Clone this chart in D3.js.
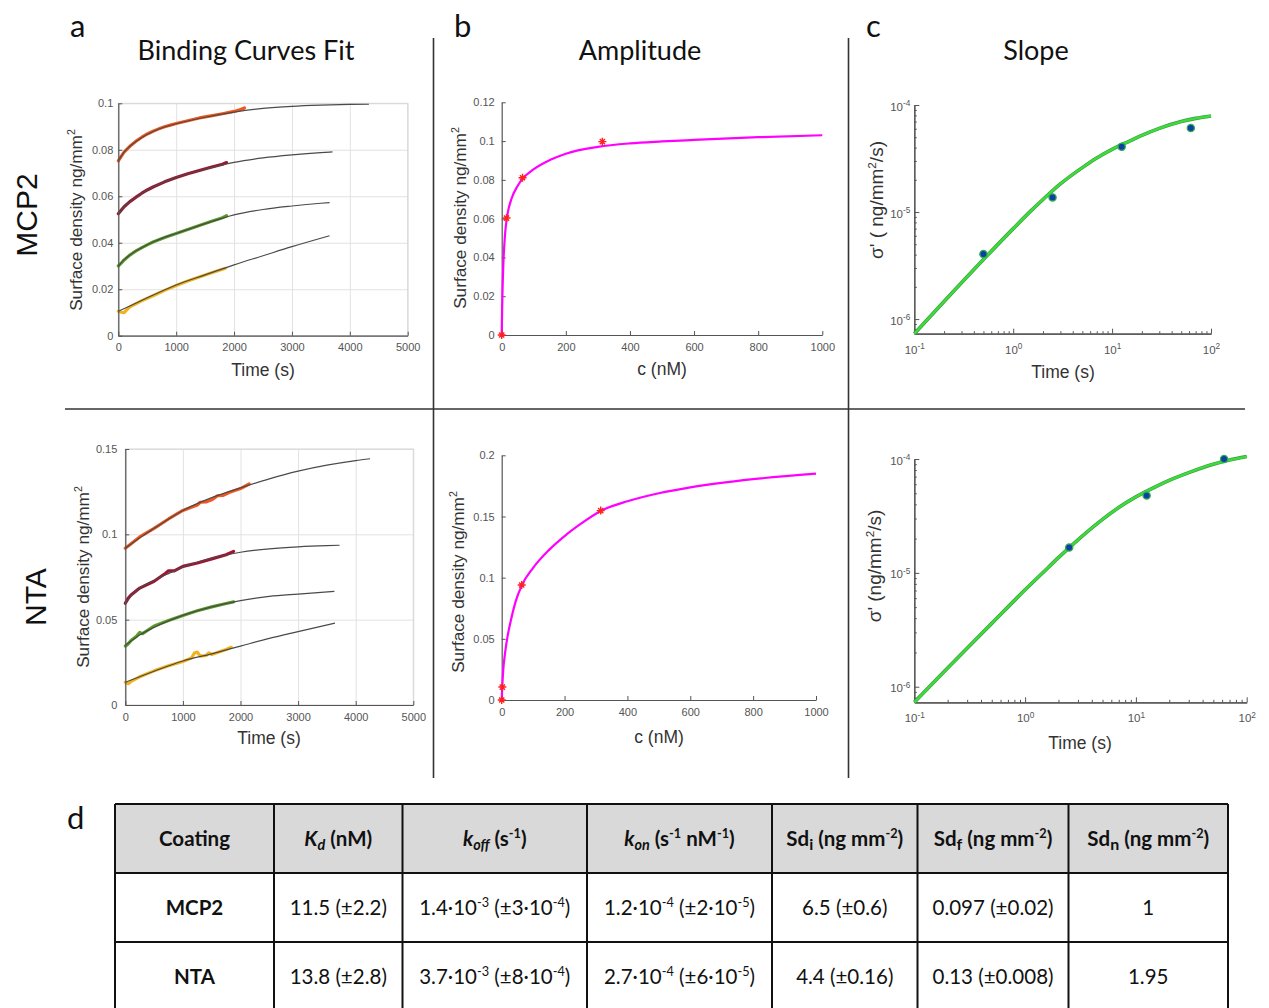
<!DOCTYPE html>
<html>
<head>
<meta charset="utf-8">
<script src="https://cdn.jsdelivr.net/npm/d3@7"></script>
<style>
  body { margin: 0; background: #fff; }
  svg { display: block; font-family: "Liberation Sans", Arial, sans-serif; }
</style>
</head>
<body>
<script>
/* ---- Data: panel a (binding curves), [time s, surface density] ---- */
const mcp2OrangeData = [[0,0.0752],[50,0.0772],[100,0.0790],[200,0.0815],[300,0.0836],[400,0.0853],[500,0.0868],[600,0.0880],[700,0.0890],[800,0.0899],[900,0.0906],[1000,0.0913],[1200,0.0925],[1400,0.0937],[1600,0.0946],[1800,0.0955],[2000,0.0965],[2100,0.0972],[2180,0.0980]];
const mcp2OrangeFit = [[0,0.0752],[100,0.0790],[200,0.0815],[400,0.0852],[600,0.0879],[800,0.0898],[1000,0.0912],[1500,0.0940],[2000,0.0962],[2500,0.0978],[3000,0.0987],[3500,0.0992],[4000,0.0995],[4330,0.0996]];
const mcp2RedData = [[0,0.0525],[50,0.0540],[100,0.0555],[200,0.0577],[300,0.0595],[400,0.0612],[500,0.0627],[600,0.0640],[800,0.0662],[1000,0.0681],[1200,0.0697],[1400,0.0711],[1600,0.0725],[1800,0.0738],[1870,0.0745]];
const mcp2RedFit = [[0,0.0525],[100,0.0555],[200,0.0577],[400,0.0612],[600,0.0640],[800,0.0662],[1000,0.0681],[1500,0.0717],[2000,0.0746],[2500,0.0765],[3000,0.0778],[3500,0.0788],[3700,0.0791]];
const mcp2GreenData = [[0,0.0300],[50,0.0312],[100,0.0326],[200,0.0347],[300,0.0364],[400,0.0378],[500,0.0391],[600,0.0403],[800,0.0423],[1000,0.0440],[1200,0.0457],[1400,0.0474],[1600,0.0491],[1800,0.0508],[1870,0.0516]];
const mcp2GreenFit = [[0,0.0300],[100,0.0326],[200,0.0347],[400,0.0378],[600,0.0403],[800,0.0423],[1000,0.0440],[1500,0.0482],[2000,0.0520],[2500,0.0543],[3000,0.0558],[3500,0.0570],[3650,0.0573]];
const mcp2YellowData = [[0,0.0105],[50,0.0101],[100,0.0099],[150,0.0112],[200,0.0124],[400,0.0150],[600,0.0172],[800,0.0195],[1000,0.0216],[1200,0.0235],[1400,0.0253],[1600,0.0270],[1850,0.0290]];
const mcp2YellowFit = [[0,0.0105],[200,0.0128],[500,0.0163],[1000,0.0218],[1500,0.0262],[2000,0.0305],[2500,0.0344],[3000,0.0383],[3650,0.0430]];

const ntaOrangeData = [[0,0.0918],[100,0.0945],[250,0.0985],[500,0.1035],[750,0.1090],[1000,0.1140],[1250,0.1172],[1300,0.1188],[1400,0.1190],[1500,0.1202],[1600,0.1226],[1700,0.1228],[1800,0.1245],[2000,0.1268],[2150,0.1295]];
const ntaOrangeFit = [[0,0.0918],[250,0.0980],[500,0.1035],[1000,0.1140],[1500,0.1215],[2000,0.1272],[2500,0.1325],[3000,0.1370],[3500,0.1405],[4000,0.1432],[4250,0.1443]];
const ntaRedData = [[0,0.0596],[50,0.0625],[100,0.0645],[250,0.0685],[500,0.0725],[700,0.0772],[750,0.0786],[850,0.0786],[1000,0.0812],[1250,0.0832],[1500,0.0856],[1750,0.0880],[1880,0.0900]];
const ntaRedFit = [[0,0.0596],[100,0.0640],[250,0.0685],[500,0.0730],[750,0.0770],[1000,0.0808],[1500,0.0860],[2000,0.0895],[2500,0.0915],[3000,0.0927],[3500,0.0934],[3720,0.0936]];
const ntaGreenData = [[0,0.0345],[50,0.0358],[100,0.0378],[200,0.0405],[250,0.0425],[300,0.0418],[500,0.0463],[750,0.0495],[1000,0.0525],[1250,0.0552],[1500,0.0575],[1750,0.0595],[1880,0.0604]];
const ntaGreenFit = [[0,0.0350],[100,0.0375],[250,0.0410],[500,0.0455],[1000,0.0525],[1500,0.0575],[2000,0.0612],[2500,0.0636],[3000,0.0650],[3630,0.0666]];
const ntaYellowData = [[0,0.0133],[50,0.0125],[100,0.0138],[250,0.0165],[500,0.0200],[750,0.0230],[1000,0.0255],[1150,0.0275],[1200,0.0305],[1250,0.0310],[1300,0.0286],[1400,0.0290],[1450,0.0305],[1500,0.0296],[1750,0.0325],[1840,0.0338]];
const ntaYellowFit = [[0,0.0133],[500,0.0198],[1000,0.0258],[1500,0.0300],[2000,0.0345],[2500,0.0390],[3000,0.0430],[3640,0.0480]];

const timeTicks = [0, 1000, 2000, 3000, 4000, 5000];
const mcp2DensTicks = [0, 0.02, 0.04, 0.06, 0.08, 0.1];
const ntaDensTicks = [0, 0.05, 0.1, 0.15];

/* ---- Data: panel b (amplitude vs concentration) ---- */
const concTicks = [0, 200, 400, 600, 800, 1000];
const mcp2AmpTicks = [0, 0.02, 0.04, 0.06, 0.08, 0.1, 0.12];
const ntaAmpTicks = [0, 0.05, 0.1, 0.15, 0.2];
const mcp2AmpPoints = [[0,0],[15,0.0603],[65,0.0811],[314,0.0997]];
const mcp2AmpFit = [[0,0],[1,0.010],[2,0.019],[5,0.036],[10,0.051],[15,0.059],[20,0.064],[30,0.070],[50,0.077],[65,0.0805],[100,0.0855],[150,0.0902],[200,0.0935],[300,0.0970],[400,0.0988],[500,0.0998],[600,0.1006],[800,0.1020],[1000,0.1030]];
const ntaAmpPoints = [[0,0],[2,0.0106],[63.6,0.0940],[315,0.1548]];
const ntaAmpFit = [[0,0],[2,0.012],[5,0.025],[10,0.037],[20,0.054],[30,0.066],[45,0.081],[63.6,0.0935],[100,0.1080],[150,0.1225],[200,0.1340],[250,0.1437],[315,0.1545],[400,0.1625],[500,0.1690],[600,0.1738],[800,0.1805],[1000,0.1850]];

/* ---- Data: panel c (slope, log-log) ---- */
const logXTicks = [0.1, 1, 10, 100];
const logYTicks = [1e-6, 1e-5, 1e-4];
const mcp2SlopePoints = [[0.5,4.05e-6],[2.5,1.37e-5],[12.5,4.07e-5],[62.5,6.1e-5]];
const mcp2SlopeFit = [[0.1,7.3e-7],[0.2,1.46e-6],[0.5,3.6e-6],[1,7.0e-6],[1.5,1.02e-5],[2,1.31e-5],[3,1.83e-5],[5,2.6e-5],[7,3.2e-5],[10,3.85e-5],[15,4.6e-5],[20,5.2e-5],[30,6.05e-5],[50,7.0e-5],[70,7.5e-5],[100,7.9e-5]];
const ntaSlopePoints = [[2.5,1.67e-5],[12.5,4.77e-5],[62.5,1.0e-4]];
const ntaSlopeFit = [[0.1,7.3e-7],[0.2,1.46e-6],[0.5,3.6e-6],[1,7.1e-6],[1.5,1.04e-5],[2,1.36e-5],[3,1.95e-5],[5,2.95e-5],[7,3.75e-5],[10,4.65e-5],[15,5.7e-5],[20,6.5e-5],[30,7.6e-5],[50,9.0e-5],[70,9.8e-5],[100,1.05e-4]];

/* ---- Data: table d ---- */
const tableHeader = ["Coating", "*K*!{d} (nM)", "*k*!{off} (s^{-1})", "*k*!{on} (s^{-1} nM^{-1})", "Sd_{i} (ng mm^{-2})", "Sd_{f} (ng mm^{-2})", "Sd_{n} (ng mm^{-2})"];
const tableMcp2 = ["MCP2", "11.5 (±2.2)", "1.4·10^{-3} (±3·10^{-4})", "1.2·10^{-4} (±2·10^{-5})", "6.5 (±0.6)", "0.097 (±0.02)", "1"];
const tableNta = ["NTA", "13.8 (±2.8)", "3.7·10^{-3} (±8·10^{-4})", "2.7·10^{-4} (±6·10^{-5})", "4.4 (±0.16)", "0.13 (±0.008)", "1.95"];

/* ---- Setup ---- */
const svg = d3.select("body").append("svg").attr("width", 1269).attr("height", 1008);
const axisCol = "#555";
const labelCol = "#333";
const calibri = "Lato, 'Open Sans', sans-serif";

// rich text: ^{sup} _{sub} !{italic sub} *italic*
function rich(textSel, str, size, supRatio) {
  const sr = supRatio || 0.62;
  const parts = str.split(/(\^\{[^}]*\}|_\{[^}]*\}|!\{[^}]*\}|\*[^*]+\*)/).filter(s => s.length);
  let shift = 0;
  parts.forEach(p => {
    let t = p, fs = size, target = 0, italic = false;
    if (p.startsWith("^{")) { t = p.slice(2, -1); fs = size * sr; target = -size * 0.38; }
    else if (p.startsWith("_{")) { t = p.slice(2, -1); fs = size * 0.78; target = size * 0.22; }
    else if (p.startsWith("!{")) { t = p.slice(2, -1); fs = size * 0.7; target = size * 0.22; italic = true; }
    else if (p.startsWith("*")) { t = p.slice(1, -1); italic = true; }
    const ts = textSel.append("tspan").attr("font-size", fs).attr("dy", target - shift).text(t);
    if (italic) ts.attr("font-style", "italic");
    shift = target;
  });
}

function styleAxis(g) {
  g.select(".domain").attr("stroke", axisCol).attr("stroke-width", 1.2);
  g.selectAll(".tick line").attr("stroke", axisCol);
  g.selectAll(".tick text").attr("fill", axisCol).attr("font-size", 11)
    .attr("font-family", "'Liberation Sans', Arial, sans-serif");
}

function yLabel(x, cy, str, size) {
  const t = svg.append("text").attr("transform", `translate(${x},${cy}) rotate(-90)`)
    .attr("text-anchor", "middle").attr("fill", labelCol);
  rich(t, str, size);
}
function xLabel(cx, y, str) {
  svg.append("text").attr("x", cx).attr("y", y).attr("text-anchor", "middle")
    .attr("fill", labelCol).attr("font-size", 17.5).text(str);
}

/* ---- Panel a ---- */
const seriesCols = ["#f0561e", "#a3122f", "#5a9e24", "#f2b21c"];

function kineticPanel(box, yTicks, dataSets, fitSets, yPad) {
  const x = d3.scaleLinear().domain([0, 5000]).range([box.x0, box.x1]);
  const y = d3.scaleLinear().domain([0, yTicks[yTicks.length - 1]]).range([box.y1, box.y0]);
  const g = svg.append("g");
  const w = box.x1 - box.x0, h = box.y1 - box.y0;

  // grid
  g.append("g").attr("transform", `translate(0,${box.y1})`)
    .call(d3.axisBottom(x).tickValues(timeTicks).tickSize(-h).tickFormat(""))
    .call(s => s.select(".domain").remove())
    .selectAll("line").attr("stroke", "#e2e2e2");
  g.append("g").attr("transform", `translate(${box.x0},0)`)
    .call(d3.axisLeft(y).tickValues(yTicks).tickSize(-w).tickFormat(""))
    .call(s => s.select(".domain").remove())
    .selectAll("line").attr("stroke", "#e2e2e2");
  g.append("rect").attr("x", box.x0).attr("y", box.y0).attr("width", w).attr("height", h)
    .attr("fill", "none").attr("stroke", "#d6d6d6");

  const line = d3.line().x(d => x(d[0])).y(d => y(d[1]));
  dataSets.forEach((d, i) => {
    g.append("path").datum(d).attr("d", line).attr("fill", "none")
      .attr("stroke", seriesCols[i]).attr("stroke-width", 3.2)
      .attr("stroke-linecap", "round").attr("stroke-linejoin", "round");
  });
  const fitLine = d3.line().x(d => x(d[0])).y(d => y(d[1])).curve(d3.curveMonotoneX);
  fitSets.forEach(d => {
    g.append("path").datum(d).attr("d", fitLine).attr("fill", "none")
      .attr("stroke", "#4a4a4a").attr("stroke-width", 1.2);
  });

  g.append("g").attr("transform", `translate(0,${box.y1})`)
    .call(d3.axisBottom(x).tickValues(timeTicks).tickSizeInner(-4).tickSizeOuter(0).tickPadding(8).tickFormat(d3.format("d")))
    .call(styleAxis);
  g.append("g").attr("transform", `translate(${box.x0},0)`)
    .call(d3.axisLeft(y).tickValues(yTicks).tickSizeInner(-4).tickSizeOuter(0).tickPadding(yPad).tickFormat(d3.format("~g")))
    .call(styleAxis);
}

kineticPanel({ x0: 118.3, x1: 407.7, y0: 103.3, y1: 335.7 }, mcp2DensTicks,
  [mcp2OrangeData, mcp2RedData, mcp2GreenData, mcp2YellowData],
  [mcp2OrangeFit, mcp2RedFit, mcp2GreenFit, mcp2YellowFit], 5);
kineticPanel({ x0: 125.3, x1: 413.3, y0: 449, y1: 705 }, ntaDensTicks,
  [ntaOrangeData, ntaRedData, ntaGreenData, ntaYellowData],
  [ntaOrangeFit, ntaRedFit, ntaGreenFit, ntaYellowFit], 8);

/* ---- Panel b ---- */
function ampPanel(box, yTicks, fit, pts) {
  const x = d3.scaleLinear().domain([0, 1000]).range([box.x0, box.x1]);
  const y = d3.scaleLinear().domain([0, yTicks[yTicks.length - 1]]).range([box.y1, box.y0]);
  const g = svg.append("g");
  g.append("g").attr("transform", `translate(0,${box.y1})`)
    .call(d3.axisBottom(x).tickValues(concTicks).tickSizeInner(-4).tickSizeOuter(0).tickPadding(8).tickFormat(d3.format("d")))
    .call(styleAxis);
  g.append("g").attr("transform", `translate(${box.x0},0)`)
    .call(d3.axisLeft(y).tickValues(yTicks).tickSizeInner(-4).tickSizeOuter(0).tickPadding(7).tickFormat(d3.format("~g")))
    .call(styleAxis);
  const line = d3.line().x(d => x(d[0])).y(d => y(d[1])).curve(d3.curveMonotoneX);
  g.append("path").datum(fit).attr("d", line).attr("fill", "none")
    .attr("stroke", "#ff00ff").attr("stroke-width", 2.2);
  g.selectAll(".pt").data(pts).enter().append("path")
    .attr("transform", d => `translate(${x(d[0])},${y(d[1])})`)
    .attr("d", "M-4,0H4M0,-4V4M-2.6,-2.6L2.6,2.6M-2.6,2.6L2.6,-2.6")
    .attr("stroke", "#ff2020").attr("stroke-width", 1.4).attr("fill", "none");
}
ampPanel({ x0: 501.7, x1: 822.3, y0: 102.3, y1: 335 }, mcp2AmpTicks, mcp2AmpFit, mcp2AmpPoints);
ampPanel({ x0: 501.7, x1: 816, y0: 455.3, y1: 700 }, ntaAmpTicks, ntaAmpFit, ntaAmpPoints);

/* ---- Panel c ---- */
function slopePanel(box, fit, pts) {
  const x = d3.scaleLog().domain([0.1, 100]).range([box.x0, box.x1]);
  const y = d3.scaleLog().domain([7.3e-7, 1e-4]).range([box.y1, box.y0]);
  const g = svg.append("g");
  const minorX = x.ticks().filter(v => Math.abs(Math.log10(v) - Math.round(Math.log10(v))) > 1e-6);
  const minorY = y.ticks().filter(v => Math.abs(Math.log10(v) - Math.round(Math.log10(v))) > 1e-6);

  g.append("g").attr("transform", `translate(0,${box.y1})`)
    .call(d3.axisBottom(x).tickValues(minorX).tickSizeInner(-2.5).tickSizeOuter(0).tickFormat(""))
    .call(styleAxis);
  g.append("g").attr("transform", `translate(${box.x0},0)`)
    .call(d3.axisLeft(y).tickValues(minorY).tickSizeInner(-2.5).tickSizeOuter(0).tickFormat(""))
    .call(styleAxis);

  const gx = g.append("g").attr("transform", `translate(0,${box.y1})`)
    .call(d3.axisBottom(x).tickValues(logXTicks).tickSizeInner(-5).tickSizeOuter(0).tickFormat(""))
    .call(styleAxis);
  gx.selectAll(".tick").append("text").attr("y", 20).attr("text-anchor", "middle")
    .attr("fill", axisCol).attr("font-family", "'Liberation Sans', Arial, sans-serif")
    .each(function (d) { rich(d3.select(this), "10^{" + Math.round(Math.log10(d)) + "}", 11.5, 0.72); });
  const gy = g.append("g").attr("transform", `translate(${box.x0},0)`)
    .call(d3.axisLeft(y).tickValues(logYTicks).tickSizeInner(-5).tickSizeOuter(0).tickFormat(""))
    .call(styleAxis);
  gy.selectAll(".tick").append("text").attr("x", -4).attr("y", 5).attr("text-anchor", "end")
    .attr("fill", axisCol).attr("font-family", "'Liberation Sans', Arial, sans-serif")
    .each(function (d) { rich(d3.select(this), "10^{" + Math.round(Math.log10(d)) + "}", 11.5, 0.72); });

  const line = d3.line().x(d => x(d[0])).y(d => y(d[1])).curve(d3.curveMonotoneX);
  g.append("path").datum(fit).attr("d", line).attr("fill", "none")
    .attr("stroke", "#3c9a3c").attr("stroke-width", 3.6);
  g.append("path").datum(fit).attr("d", line).attr("fill", "none")
    .attr("stroke", "#3ddc3d").attr("stroke-width", 2.4);
  g.selectAll(".pt").data(pts).enter().append("circle")
    .attr("cx", d => x(d[0])).attr("cy", d => y(d[1])).attr("r", 3.6)
    .attr("fill", "#0d3fa6").attr("stroke", "#2fae4f").attr("stroke-width", 1.3);
}
slopePanel({ x0: 914.3, x1: 1211, y0: 105, y1: 333.7 }, mcp2SlopeFit, mcp2SlopePoints);
slopePanel({ x0: 914.3, x1: 1246.7, y0: 459, y1: 702.3 }, ntaSlopeFit, ntaSlopePoints);

/* ---- Axis labels ---- */
const dens = "Surface density ng/mm^{2}";
yLabel(82, 220, dens, 17.2);
yLabel(89, 577, dens, 17.2);
yLabel(466, 218, dens, 17.2);
yLabel(464, 582, dens, 17.2);
yLabel(883, 200, "σ' ( ng/mm^{2}/s)", 19);
yLabel(881, 566, "σ' (ng/mm^{2}/s)", 19);
xLabel(263, 376, "Time (s)");
xLabel(662, 375, "c (nM)");
xLabel(1063, 378, "Time (s)");
xLabel(269, 744, "Time (s)");
xLabel(659, 743, "c (nM)");
xLabel(1080, 749, "Time (s)");

/* ---- Titles, letters, separators ---- */
[["Binding Curves Fit", 246], ["Amplitude", 640], ["Slope", 1036]].forEach(([t, cx]) => {
  svg.append("text").attr("x", cx).attr("y", 60).attr("text-anchor", "middle")
    .attr("font-family", calibri).attr("font-size", 27).attr("fill", "#111").text(t);
});
[["a", 70, 37], ["b", 454, 37], ["c", 866, 37], ["d", 67, 829]].forEach(([t, x, y]) => {
  svg.append("text").attr("x", x).attr("y", y).attr("font-family", calibri)
    .attr("font-size", 31).attr("fill", "#111").text(t);
});
[["MCP2", 37, 215], ["NTA", 46, 597]].forEach(([t, x, cy]) => {
  svg.append("text").attr("transform", `translate(${x},${cy}) rotate(-90)`)
    .attr("text-anchor", "middle").attr("font-size", 30).attr("fill", "#111").text(t);
});
const sep = svg.append("g").attr("stroke", "#333").attr("stroke-width", 1.6);
sep.append("line").attr("x1", 433.5).attr("x2", 433.5).attr("y1", 38).attr("y2", 778);
sep.append("line").attr("x1", 848.5).attr("x2", 848.5).attr("y1", 38).attr("y2", 778);
sep.append("line").attr("x1", 65).attr("x2", 1245).attr("y1", 409).attr("y2", 409);

/* ---- Table d ---- */
const colX = [115, 274, 402.5, 587, 772, 917.5, 1068.5, 1228];
const rowY = [804, 873, 942, 1011];
const tg = svg.append("g").attr("font-family", calibri);
tg.append("rect").attr("x", colX[0]).attr("y", rowY[0]).attr("width", colX[7] - colX[0])
  .attr("height", rowY[1] - rowY[0]).attr("fill", "#d9d9d9");
[tableHeader, tableMcp2, tableNta].forEach((row, r) => {
  row.forEach((cell, c) => {
    const t = tg.append("text").attr("x", (colX[c] + colX[c + 1]) / 2)
      .attr("y", (rowY[r] + rowY[r + 1]) / 2 + 7).attr("text-anchor", "middle")
      .attr("fill", "#111").attr("font-weight", (r === 0 || c === 0) ? "bold" : "normal");
    rich(t, cell, 20.5);
  });
});
const tb = tg.append("g").attr("stroke", "#111").attr("stroke-width", 2);
colX.forEach(x => tb.append("line").attr("x1", x).attr("x2", x).attr("y1", rowY[0]).attr("y2", rowY[3]));
rowY.forEach(y => tb.append("line").attr("x1", colX[0]).attr("x2", colX[7]).attr("y1", y).attr("y2", y));
</script>
</body>
</html>
